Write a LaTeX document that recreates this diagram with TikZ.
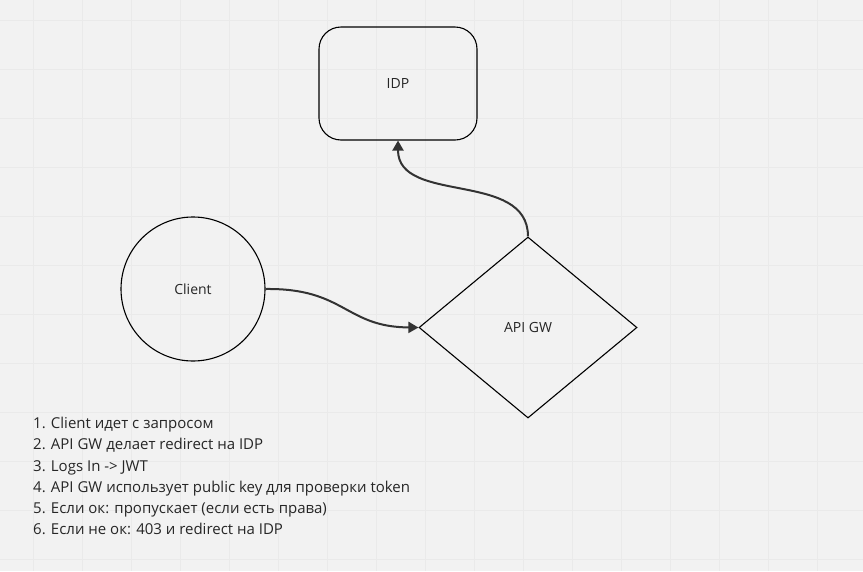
\documentclass[tikz,border=0pt]{standalone}
\usepackage{fontspec}
\setmainfont{Open Sans}
\usetikzlibrary{shapes.geometric,arrows.meta}
\definecolor{bg}{HTML}{F2F2F2}
\definecolor{gridc}{HTML}{EAEAEA}
\definecolor{arr}{HTML}{333333}
\tikzset{
  shapeline/.style={draw=black, line width=1.1pt},
  conn/.style={draw=arr, line width=2pt, -{Triangle[length=10pt,width=11pt]}},
  lbl/.style={font=\fontsize{14}{17}\selectfont, text=black!85},
}
\begin{document}
\begin{tikzpicture}[x=1pt,y=-1pt]
\fill[bg] (0,0) rectangle (863,571);
\useasboundingbox (0,0) rectangle (863,571);
\foreach \gx in {33,82,131,180,229,278,327,376,425,474,523,572,621,670,719,768,817}
  \draw[gridc, line width=0.6pt] (\gx,0) -- (\gx,571);
\foreach \gy in {20,69,118,167,216,265,314,363,412,461,510,559}
  \draw[gridc, line width=0.6pt] (0,\gy) -- (863,\gy);

\node[shapeline, rounded corners=22pt, minimum width=158pt, minimum height=113pt, lbl] (idp) at (398,83.5) {IDP};
\node[shapeline, circle, minimum size=144pt, lbl] (client) at (193,289) {Client};
\node[shapeline, diamond, minimum width=218pt, minimum height=181pt, inner sep=0pt, lbl] (gw) at (528,327.5) {API GW};

\draw[conn] (client.east) .. controls (345,288) and (345,327) .. (gw.west);
\draw[conn] (gw.north) .. controls (528,170) and (398,205) .. (idp.south);

\node[anchor=north west, align=left, inner sep=0pt, font=\fontsize{15}{21.2}\selectfont, text=black!85] (list) at (33,417) {%
1. Client идет с запросом\\
2. API GW делает redirect на IDP\\
3. Logs In -> JWT\\
4. API GW использует public key для проверки token\\
5. Если ок: пропускает (если есть права)\\
6. Если не ок: 403 и redirect на IDP};
\end{tikzpicture}
\end{document}
